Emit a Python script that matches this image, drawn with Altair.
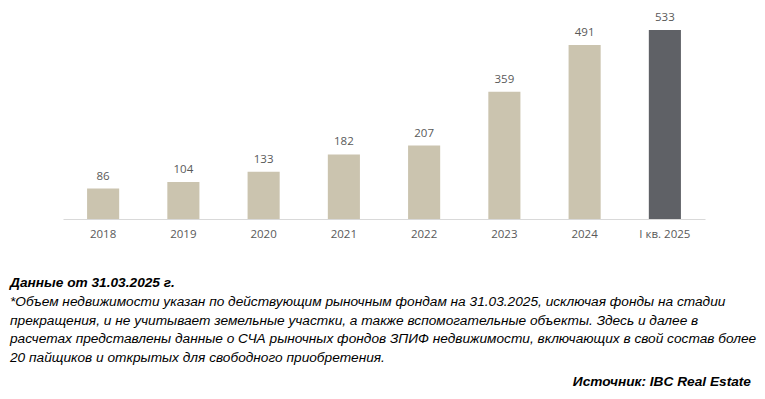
import altair as alt
import pandas as pd

categories = ["2018", "2019", "2020", "2021", "2022", "2023", "2024", "I кв. 2025"]
values = [86, 104, 133, 182, 207, 359, 491, 533]
kinds = ["year", "year", "year", "year", "year", "year", "year", "quarter"]

note_title = "Данные от 31.03.2025 г."
note_lines = [
    "*Объем недвижимости указан по действующим рыночным фондам на 31.03.2025, исключая фонды на стадии",
    "прекращения, и не учитывает земельные участки, а также вспомогательные объекты. Здесь и далее в",
    "расчетах представлены данные о СЧА рыночных фондов ЗПИФ недвижимости, включающих в свой состав более",
    "20 пайщиков и открытых для свободного приобретения.",
]
source_text = "Источник: IBC Real Estate"

df = pd.DataFrame({"cat": categories, "val": values, "kind": kinds})

W, H = 642, 189
FS = 13.7

x = alt.X("cat:N", sort=None,
          scale=alt.Scale(paddingInner=0.6, paddingOuter=0.3),
          axis=alt.Axis(title=None, labelAngle=0, ticks=False, tickSize=0,
                        domainColor="#d9d9d9", domainWidth=1,
                        labelFont="Open Sans", labelFontSize=11.5,
                        labelColor="#595959", labelPadding=9))
y = alt.Y("val:Q", scale=alt.Scale(domain=[0, 533], nice=False, zero=True), axis=None)

bars = alt.Chart(df).mark_bar().encode(
    x=x, y=y,
    color=alt.Color("kind:N", scale=alt.Scale(domain=["year", "quarter"],
                                              range=["#CBC4AF", "#5F6166"]), legend=None),
)
labels = alt.Chart(df).mark_text(font="Open Sans", fontSize=11.5, color="#595959",
                                 baseline="alphabetic", dy=-9).encode(
    x=alt.X("cat:N", sort=None), y=y, text="val:Q")

layers = [bars, labels]

one = pd.DataFrame({"k": [0]})

layers.append(alt.Chart(one).mark_text(
    font="Liberation Sans", fontSize=FS, fontStyle="italic", fontWeight="bold",
    align="left", baseline="middle", color="#000000", text=note_title).encode(
    x=alt.value(-53), y=alt.value(253)))

for i, line in enumerate(note_lines):
    layers.append(alt.Chart(one).mark_text(
        font="Liberation Sans", fontSize=FS, fontStyle="italic",
        align="left", baseline="middle", color="#000000", text=line).encode(
        x=alt.value(-53), y=alt.value(272 + 18.5 * i)))

layers.append(alt.Chart(one).mark_text(
    font="Liberation Sans", fontSize=FS, fontStyle="italic", fontWeight="bold",
    align="right", baseline="middle", color="#000000", text=source_text).encode(
    x=alt.value(688), y=alt.value(352)))

chart = alt.layer(*layers).properties(
    width=W, height=H,
    autosize=alt.AutoSizeParams(type="none"),
    padding={"left": 55, "right": 52, "top": 22, "bottom": 172},
).configure_view(stroke=None)

chart.save("out.html", embed_options={"renderer": "svg", "actions": False})
